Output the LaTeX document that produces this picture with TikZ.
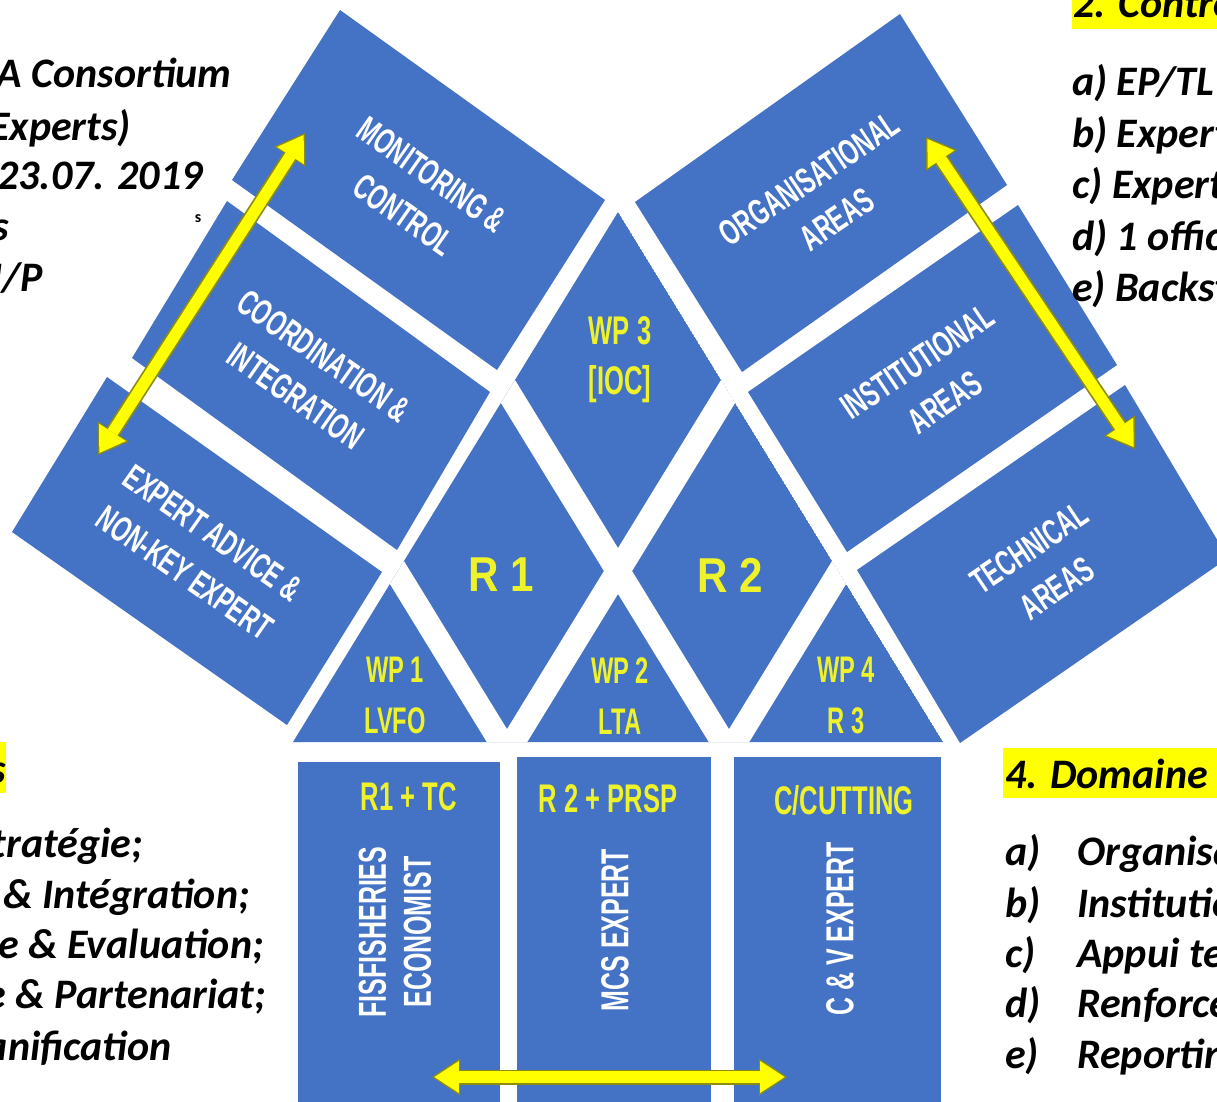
\documentclass[tikz,border=0pt]{standalone}
\usepackage{fontspec}
\setmainfont{Carlito}
\newfontfamily\agb[FakeStretch=0.64]{Liberation Sans}
\newfontfamily\agr[FakeStretch=0.86]{Liberation Sans}
\usetikzlibrary{arrows.meta}
\definecolor{boxblue}{HTML}{4472C4}
\definecolor{lblyellow}{HTML}{EEF22A}
\definecolor{hl}{HTML}{FFFF00}
\definecolor{arrowyellow}{HTML}{FFFF00}
\definecolor{arrowline}{HTML}{8C8C10}
\tikzset{
  panel/.style={fill=boxblue},
  band/.style={draw=white, line width=24pt},
  fantext/.style={text=white, font=\agb\bfseries\fontsize{36}{49}\selectfont, align=center, inner sep=0pt},
  boxtext/.style={text=white, font=\agb\bfseries\fontsize{39}{45}\selectfont, align=center, inner sep=0pt, rotate=90},
  ylab/.style={text=lblyellow, font=\agb\bfseries\fontsize{40}{50}\selectfont, align=center, inner sep=0pt},
  rlab/.style={text=lblyellow, font=\agr\bfseries\fontsize{49}{50}\selectfont, inner sep=0pt},
  ltxt/.style={font=\bfseries\itshape\fontsize{42}{50}\selectfont, inner sep=0pt, anchor=base east},
  rtxt/.style={font=\bfseries\itshape\fontsize{42}{50}\selectfont, inner sep=0pt, anchor=base west},
  yarrowout/.style={line width=15pt, draw=arrowline,
    {Triangle[length=28pt,width=37pt,line width=0pt]}-{Triangle[length=28pt,width=37pt,line width=0pt]}},
  yarrowin/.style={line width=11.5pt, draw=arrowyellow, shorten <=2.4pt, shorten >=2.4pt,
    {Triangle[length=24.5pt,width=32pt,line width=0pt]}-{Triangle[length=24.5pt,width=32pt,line width=0pt]}},
}
\begin{document}
\begin{tikzpicture}[x=1pt,y=-1pt]
\useasboundingbox (0,0) rectangle (1217,1101);
\clip (0,0) rectangle (1217,1101);
\fill[white] (0,0) rectangle (1217,1101);

% ---------- left fan ----------
\fill[panel] (340,10) -- (605,200) -- (497,370) -- (232,180) -- cycle;
\fill[panel] (227,201) -- (490,392) -- (397,550) -- (132,358) -- cycle;
\fill[panel] (107,377) -- (382,572) -- (287,725) -- (12,532) -- cycle;
% ---------- right fan ----------
\fill[panel] (900,14) -- (1007,185) -- (742,372) -- (635,202) -- cycle;
\fill[panel] (1018,205) -- (1117,365) -- (847,552) -- (748,392) -- cycle;
\fill[panel] (1125,385) -- (1228,558) -- (960,743) -- (857,570) -- cycle;

% ---------- centre lattice ----------
\begin{scope}
  \clip (618,212) -- (293,742) -- (943,742) -- cycle;
  \fill[panel] (618,212) -- (293,742) -- (943,742) -- cycle;
  \draw[band] (464.75,321) -- (771.25,821);
  \draw[band] (771.25,321) -- (464.75,821);
  \draw[band] (242.75,321) -- (549.25,821);
  \draw[band] (993.25,321) -- (686.75,821);
\end{scope}

% ---------- bottom boxes ----------
\fill[panel] (298,762) rectangle (500,1110);
\fill[panel] (517,757) rectangle (711,1110);
\fill[panel] (734,757) rectangle (941,1110);

% ---------- fan texts ----------
\node[fantext, rotate=-35] (tmon) at (418,195) {MONITORING \&\\CONTROL};
\node[fantext, rotate=-35] (tcoord) at (310,376) {COORDINATION \&\\INTEGRATION};
\node[fantext, rotate=-35] (texp) at (199,553) {EXPERT ADVICE \&\\NON-KEY EXPERT};
\node[fantext, rotate=34] (torg) at (823,199) {ORGANISATIONAL\\AREAS};
\node[fantext, rotate=34] (tinst) at (931,382) {INSTITUTIONAL\\AREAS};
\node[fantext, rotate=34] (ttech) at (1043,568) {TECHNICAL\\AREAS};

% ---------- yellow labels ----------
\node[ylab] (wp3) at (620,360) {WP 3\\{[}IOC{]}};
\node[rlab] (r1) at (501,575) {R 1};
\node[rlab] (r2) at (730,575) {R 2};
\node[ylab, font=\agb\bfseries\fontsize{37}{51}\selectfont] (wp1) at (395,695) {WP 1\\LVFO};
\node[ylab, font=\agb\bfseries\fontsize{37}{51}\selectfont] (wp2) at (620,696) {WP 2\\LTA};
\node[ylab, font=\agb\bfseries\fontsize{37}{51}\selectfont] (wp4) at (846,695) {WP 4\\R 3};
\node[ylab] (h1) at (409,797) {R1 + TC};
\node[ylab] (h2) at (608,799) {R 2 + PRSP};
\node[ylab] (h3) at (844,800) {C/CUTTING};

% ---------- box texts ----------
\node[boxtext] (b1) at (395,932) {FISFISHERIES\\ECONOMIST};
\node[boxtext] (b2) at (615,930) {MCS EXPERT};
\node[boxtext] (b3) at (840,929) {C \& V EXPERT};

% ---------- arrows ----------
\coordinate (la1) at (305,133);
\coordinate (la2) at (98,455);
\coordinate (ra1) at (926,137);
\coordinate (ra2) at (1135,449);
\coordinate (ba1) at (432,1077);
\coordinate (ba2) at (787,1077);
\draw[yarrowout] (la1) -- (la2);
\draw[yarrowin] (la1) -- (la2);
\draw[yarrowout] (ra1) -- (ra2);
\draw[yarrowin] (ra1) -- (ra2);
\draw[yarrowout] (ba1) -- (ba2);
\draw[yarrowin] (ba1) -- (ba2);

% ---------- top-left text ----------
\node[ltxt] (tl1) at (232,87) {A Consortium};
\node[ltxt] (tl2) at (131,140) {Experts)};
\node[ltxt] (tl3) at (203,189) {23.07. 2019};
\node[ltxt] (tl4) at (9,240) {s};
\node[ltxt] (tl5) at (43,291) {I/P};
\node[font=\bfseries\fontsize{16}{16}\selectfont, inner sep=0pt] (tls) at (198,219) {s};

% ---------- top-right text ----------
\fill[hl] (1072,-5) rectangle (1217,29);
\node[rtxt] (tr0) at (1073,17) {2. Contrôle};
\node[rtxt] (tr1) at (1072,95) {a) EP/TL};
\node[rtxt] (tr2) at (1072,147) {b) Expert};
\node[rtxt] (tr3) at (1072,198) {c) Expert};
\node[rtxt] (tr4) at (1072,250) {d) 1 officier};
\node[rtxt] (tr5) at (1072,301) {e) Backstopping};

% ---------- bottom-left text ----------
\fill[hl] (-5,742) rectangle (6,793);
\node[ltxt] (bl0) at (6,783) {s};
\node[ltxt] (bl1) at (143,857) {Stratégie;};
\node[ltxt] (bl2) at (250,908) {on \& Intégration;};
\node[ltxt] (bl3) at (264,958) {e \& Evaluation;};
\node[ltxt] (bl4) at (266,1008) {e \& Partenariat;};
\node[ltxt] (bl5) at (172,1060) {Planification};

% ---------- bottom-right text ----------
\fill[hl] (1003,748) rectangle (1217,798);
\node[rtxt] (br0) at (1005,788) {4. Domaine};
\node[rtxt] (br1) at (1005,865) {\makebox[72pt][l]{a)}Organisationnel};
\node[rtxt] (br2) at (1005,917) {\makebox[72pt][l]{b)}Institutionnel};
\node[rtxt] (br3) at (1005,967) {\makebox[72pt][l]{c)}Appui technique};
\node[rtxt] (br4) at (1005,1017) {\makebox[72pt][l]{d)}Renforcement};
\node[rtxt] (br5) at (1005,1068) {\makebox[72pt][l]{e)}Reporting};
\end{tikzpicture}
\end{document}
